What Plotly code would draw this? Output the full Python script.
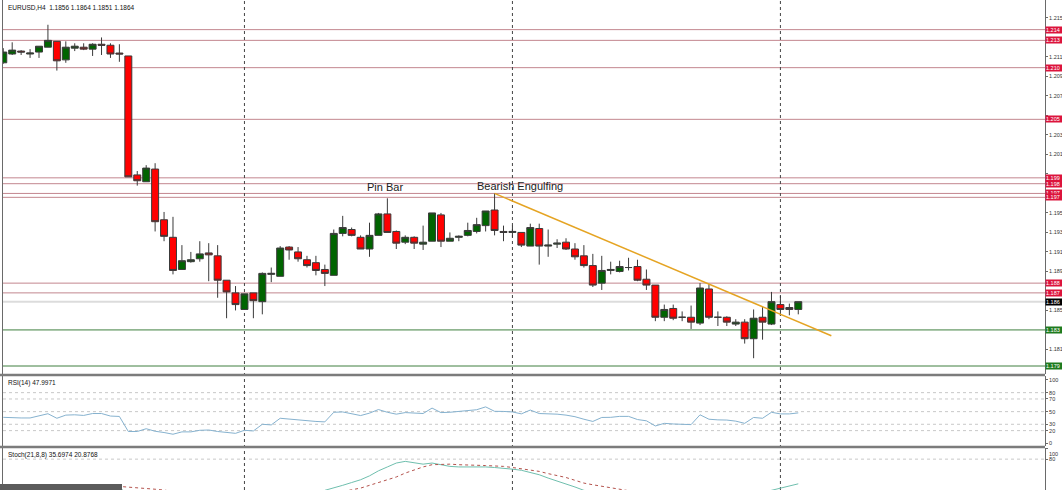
import plotly.graph_objects as go

W, H = 1062, 490

# ---------------- data ----------------
opens = [1.2109, 1.2118, 1.2121, 1.2118, 1.2120, 1.2125, 1.2131, 1.2112, 1.2124, 1.2125,
         1.2123, 1.2128, 1.2127, 1.2119, 1.2116, 1.1994, 1.1987, 1.2000, 1.1948, 1.1930,
         1.1897, 1.1905, 1.1908, 1.1914, 1.1911, 1.1886, 1.1873, 1.1856, 1.1873, 1.1864,
         1.1892, 1.1890, 1.1920, 1.1915, 1.1907, 1.1904, 1.1897, 1.1891, 1.1934, 1.1938,
         1.1930, 1.1918, 1.1932, 1.1954, 1.1936, 1.1925, 1.1930, 1.1923, 1.1926, 1.1953,
         1.1926, 1.1930, 1.1932, 1.1936, 1.1942, 1.1958, 1.1936, 1.1935, 1.1935, 1.1921,
         1.1939, 1.1921, 1.1923, 1.1925, 1.1918, 1.1911, 1.1901, 1.1883, 1.1896, 1.1895,
         1.1899, 1.1900, 1.1887, 1.1881, 1.1848, 1.1857, 1.1848, 1.1848, 1.1842, 1.1877,
         1.1848, 1.1848, 1.1841, 1.1843, 1.1826, 1.1848, 1.1841, 1.1861, 1.1858, 1.1856]
highs = [1.2124, 1.2130, 1.2122, 1.2123, 1.2126, 1.2148, 1.2131, 1.2131, 1.2129, 1.2129,
         1.2129, 1.2135, 1.2129, 1.2128, 1.2116, 1.1998, 1.2004, 1.2006, 1.1956, 1.1951,
         1.1922, 1.1915, 1.1926, 1.1924, 1.1922, 1.1886, 1.1880, 1.1872, 1.1873, 1.1894,
         1.1899, 1.1921, 1.1921, 1.1920, 1.1911, 1.1911, 1.1902, 1.1938, 1.1952, 1.1940,
         1.1932, 1.1945, 1.1955, 1.1970, 1.1937, 1.1932, 1.1931, 1.1942, 1.1955, 1.1955,
         1.1935, 1.1932, 1.1945, 1.1950, 1.1957, 1.1975, 1.1942, 1.1942, 1.1935, 1.1944,
         1.1944, 1.1938, 1.1928, 1.1929, 1.1924, 1.1922, 1.1913, 1.1911, 1.1905, 1.1906,
         1.1909, 1.1907, 1.1897, 1.1881, 1.1861, 1.1861, 1.1854, 1.1860, 1.1883, 1.1882,
         1.1854, 1.1849, 1.1846, 1.1846, 1.1856, 1.1859, 1.1874, 1.1870, 1.1862, 1.1864]
lows = [1.2108, 1.2117, 1.2117, 1.2114, 1.2114, 1.2125, 1.2101, 1.2109, 1.2121, 1.2122,
        1.2116, 1.2117, 1.2114, 1.2110, 1.1992, 1.1983, 1.1987, 1.1936, 1.1926, 1.1892,
        1.1897, 1.1904, 1.1905, 1.1885, 1.1868, 1.1847, 1.1855, 1.1856, 1.1847, 1.1851,
        1.1884, 1.1890, 1.1907, 1.1905, 1.1899, 1.1891, 1.1880, 1.1891, 1.1931, 1.1931,
        1.1918, 1.1910, 1.1932, 1.1935, 1.1918, 1.1923, 1.1918, 1.1917, 1.1926, 1.1920,
        1.1926, 1.1926, 1.1931, 1.1934, 1.1936, 1.1932, 1.1926, 1.1930, 1.1920, 1.1921,
        1.1902, 1.1910, 1.1919, 1.1917, 1.1907, 1.1899, 1.1879, 1.1876, 1.1892, 1.1894,
        1.1896, 1.1885, 1.1876, 1.1844, 1.1844, 1.1845, 1.1844, 1.1836, 1.1840, 1.1846,
        1.1839, 1.1839, 1.1839, 1.1821, 1.1806, 1.1825, 1.1840, 1.1850, 1.1850, 1.1851]
closes = [1.2120, 1.2122, 1.2120, 1.2119, 1.2126, 1.2132, 1.2111, 1.2125, 1.2126, 1.2123,
          1.2128, 1.2127, 1.2118, 1.2118, 1.1992, 1.1988, 1.2001, 1.1946, 1.1931, 1.1896,
          1.1906, 1.1907, 1.1913, 1.1912, 1.1886, 1.1874, 1.1861, 1.1872, 1.1865, 1.1893,
          1.1893, 1.1919, 1.1917, 1.1908, 1.1901, 1.1896, 1.1893, 1.1934, 1.1940, 1.1932,
          1.1918, 1.1932, 1.1954, 1.1935, 1.1924, 1.1930, 1.1924, 1.1925, 1.1955, 1.1926,
          1.1929, 1.1931, 1.1937, 1.1943, 1.1957, 1.1937, 1.1935, 1.1936, 1.1922, 1.1940,
          1.1921, 1.1922, 1.1924, 1.1918, 1.1910, 1.1901, 1.1881, 1.1896, 1.1897, 1.1900,
          1.1899, 1.1886, 1.1881, 1.1848, 1.1856, 1.1847, 1.1848, 1.1843, 1.1878, 1.1848,
          1.1848, 1.1843, 1.1843, 1.1826, 1.1847, 1.1843, 1.1864, 1.1856, 1.1856, 1.1864]

rsi = [41, 40, 40, 40, 43, 46.7, 39.5, 44.5, 45, 44,
       47, 47, 43, 42.4, 18.6, 18.6, 23, 19, 17, 14.3,
       18, 18, 20.5, 21, 18.6, 17, 15.7, 20.5, 19.5, 30,
       29, 39.5, 38, 37, 35.5, 34.5, 33.8, 49, 49.5, 47,
       43.8, 47.6, 53.3, 49, 46, 48.5, 47.8, 47, 55.6, 48.5,
       49, 50, 51.5, 53, 57.5, 50.5, 50.3, 49.5, 46.5, 52.5,
       47, 47, 46, 44.5, 42, 38, 34.5, 40.8, 41, 42.5,
       42.5, 37.5, 35.5, 27.4, 31.5, 30.5, 30, 29.5, 45, 38,
       37, 36.7, 35, 31.5, 40.8, 39.5, 49, 46.4, 46.4, 48.0]

stoch_k = [20, 22, 24, 25, 27, 30, 28, 29, 30, 31,
           33, 34, 33, 33, 8, 6, 9, 4, 3, 2,
           6, 7, 10, 12, 9, 6, 4, 6, 7, 12,
           14, 18, 20, 19, 17, 16, 24, 28, 33, 38,
           43, 50, 59, 66, 73, 76, 73, 71, 73, 70,
           67, 66, 66, 67, 66, 65, 64, 62, 60, 56,
           52, 46, 41, 36, 30, 24, 20, 17, 15, 14,
           15, 13, 10, 6, 5, 6, 5, 4, 10, 12,
           13, 12, 11, 6, 10, 12, 24, 28, 33, 35.7]
stoch_d = [28, 29, 30, 30, 31, 31, 32, 32, 32, 32,
           32, 33, 33, 31, 30, 29, 27.5, 26, 24.5, 22,
           15, 12, 10, 8, 8, 8, 8, 7, 6, 6,
           7, 9, 11, 13, 15, 16, 17, 18, 22, 25,
           28, 33, 38, 44, 48, 55, 61, 66, 70, 71,
           71, 70, 69, 69, 68.5, 68, 67, 65, 63, 61,
           58, 54, 51, 47, 42, 37, 34, 31, 28, 25,
           22, 20, 18, 16, 14, 12, 10, 9, 8, 8,
           8, 9, 9, 10, 10, 11, 13, 15, 18, 20.9]

res_levels = [1.2143, 1.2132, 1.2104, 1.2051, 1.1991, 1.1985, 1.1975, 1.1971, 1.1883, 1.1873]
sup_levels = [1.1835, 1.1798]
last_price = 1.1864
week_separators = [27, 57, 87]
price_ticks = [1.2155, 1.2135, 1.2115, 1.2095, 1.2075, 1.2055, 1.2035, 1.2015, 1.1995, 1.1975,
               1.1955, 1.1935, 1.1915, 1.1895, 1.1875, 1.1855, 1.1835, 1.1815, 1.1795]
rsi_ticks = [100, 80, 70, 50, 30, 20, 0]
rsi_levels = [80, 70, 50, 30, 20]
stoch_ticks = [100, 80, 20, 0]
stoch_levels = [80, 20]
trend_from = (55, 1.1975)
trend_to = (92.7, 1.1829)
header = "EURUSD,H4  1.1856 1.1864 1.1851 1.1864"
rsi_title = "RSI(14) 47.9971"
stoch_title = "Stoch(21,8,8) 35.6974 20.8768"

idx = list(range(len(opens)))
all_labels = res_levels + sup_levels + [last_price]


def short(v):
    # the price scale is cut by the window edge: only "1.xxx" stays visible
    return ("%.4f" % v)[:5]


# ---------------- layout helpers (pixel -> paper) ----------------
def py(px):
    return 1 - px / H


def pxx(px):
    return px / W


X0, X1 = pxx(3), pxx(1045)
FONT = "Liberation Sans, Arial, sans-serif"
SCALE_FONT = 5.5

fig = go.Figure()

fig.add_trace(go.Candlestick(
    x=idx, open=opens, high=highs, low=lows, close=closes,
    increasing=dict(fillcolor="#006400", line=dict(color="#3a3a3a", width=1)),
    decreasing=dict(fillcolor="#ff0000", line=dict(color="#3a3a3a", width=1)),
    whiskerwidth=0, xaxis="x", yaxis="y", hoverinfo="skip", showlegend=False))

fig.add_trace(go.Scatter(x=idx, y=rsi, mode="lines", line=dict(color="#86b2cf", width=1),
                         xaxis="x2", yaxis="y2", showlegend=False, hoverinfo="skip"))
fig.add_trace(go.Scatter(x=idx, y=stoch_k, mode="lines", line=dict(color="#6fbfae", width=1),
                         xaxis="x3", yaxis="y3", showlegend=False, hoverinfo="skip"))
fig.add_trace(go.Scatter(x=idx, y=stoch_d, mode="lines", line=dict(color="#b4534d", width=1, dash="dot"),
                         xaxis="x3", yaxis="y3", showlegend=False, hoverinfo="skip"))

xr = [-0.03, 116.62]
xcommon = dict(range=xr, showgrid=False, zeroline=False, showticklabels=False, ticks="",
               showline=False, domain=[X0, X1], fixedrange=True, automargin=False)
ycommon = dict(side="right", showgrid=False, zeroline=False, showline=True, mirror=True,
               linecolor="#6a6a6a", linewidth=1, ticks="outside", ticklen=2, tickcolor="#6a6a6a",
               tickfont=dict(family=FONT, size=SCALE_FONT, color="#333333"), fixedrange=True,
               automargin=False, ticklabelstandoff=0)

shapes = []
annotations = []


def price_label(v, bg):
    return dict(xref="paper", yref="y", x=X1, y=v, xanchor="left", yanchor="middle",
                text=short(v), showarrow=False, bgcolor=bg, width=16, align="left",
                font=dict(family=FONT, size=SCALE_FONT, color="white"), borderpad=0)


# horizontal levels in main pane
for lv in res_levels:
    shapes.append(dict(type="line", xref="x domain", yref="y", x0=0, x1=1, y0=lv, y1=lv,
                       line=dict(color="#c3878f", width=1), layer="below"))
    annotations.append(price_label(lv, "#dc143c"))
for lv in sup_levels:
    shapes.append(dict(type="line", xref="x domain", yref="y", x0=0, x1=1, y0=lv, y1=lv,
                       line=dict(color="#3f7f3f", width=1), layer="below"))
    annotations.append(price_label(lv, "#1e7b1e"))
shapes.append(dict(type="line", xref="x domain", yref="y", x0=0, x1=1, y0=last_price, y1=last_price,
                   line=dict(color="#dcdcdc", width=2), layer="below"))
annotations.append(price_label(last_price, "#000000"))

# trend line
shapes.append(dict(type="line", xref="x", yref="y", x0=trend_from[0], y0=trend_from[1],
                   x1=trend_to[0], y1=trend_to[1], line=dict(color="#e5a423", width=1.5), layer="above"))

# rsi / stoch level lines
for lv in rsi_levels:
    shapes.append(dict(type="line", xref="x2 domain", yref="y2", x0=0, x1=1, y0=lv, y1=lv,
                       line=dict(color="#c8c8c8", width=1, dash="dot"), layer="below"))
for lv in stoch_levels:
    shapes.append(dict(type="line", xref="x3 domain", yref="y3", x0=0, x1=1, y0=lv, y1=lv,
                       line=dict(color="#c8c8c8", width=1, dash="dot"), layer="below"))

# week separators
for s in week_separators:
    shapes.append(dict(type="line", xref="x", yref="paper", x0=s, x1=s, y0=0, y1=1,
                       line=dict(color="#444444", width=1, dash="dot"), layer="below"))

# pane separators
for ypx in (375, 447):
    shapes.append(dict(type="line", xref="paper", yref="paper", x0=0, x1=X1, y0=py(ypx), y1=py(ypx),
                       line=dict(color="#7c7c7c", width=2.5), layer="above"))

# logo strip bottom-left
shapes.append(dict(type="rect", xref="paper", yref="paper", x0=0, x1=pxx(122), y0=0, y1=py(484),
                   fillcolor="#5c5c5c", line=dict(width=0), layer="above"))

# texts
annotations += [
    dict(xref="paper", yref="paper", x=pxx(6), y=py(2), xanchor="left", yanchor="top", text=header,
         showarrow=False, font=dict(family=FONT, size=6.5, color="#111111")),
    dict(xref="paper", yref="paper", x=pxx(6), y=py(377), xanchor="left", yanchor="top", text=rsi_title,
         showarrow=False, font=dict(family=FONT, size=6.5, color="#111111")),
    dict(xref="paper", yref="paper", x=pxx(6), y=py(449), xanchor="left", yanchor="top", text=stoch_title,
         showarrow=False, font=dict(family=FONT, size=6.5, color="#111111")),
    dict(xref="x", yref="y", x=42.7, y=1.19816, text="Pin Bar", showarrow=False,
         font=dict(family=FONT, size=11, color="#222222")),
    dict(xref="x", yref="y", x=57.86, y=1.19827, text="Bearish Engulfing", showarrow=False,
         font=dict(family=FONT, size=11, color="#222222")),
    # top label of the stochastic scale sits just under the pane's upper edge
    dict(xref="paper", yref="y3", x=X1 + pxx(2), y=stoch_ticks[0], xanchor="left", yanchor="top",
         yshift=-1, text=str(stoch_ticks[0]), showarrow=False,
         font=dict(family=FONT, size=SCALE_FONT, color="#333333")),
]

# tick labels hidden where a price label box covers them (as in the reference)
price_ticktext = ["" if min(abs(t - l) for l in all_labels) < 0.00055 else short(t)
                  for t in price_ticks]
stoch_ticktext = [""] + [str(t) for t in stoch_ticks[1:]]

fig.update_layout(
    width=W, height=H, margin=dict(l=0, r=0, t=0, b=0, autoexpand=False),
    paper_bgcolor="white", plot_bgcolor="white", showlegend=False,
    boxgap=0.22, boxgroupgap=0,
    xaxis=dict(**xcommon, anchor="y", rangeslider=dict(visible=False)),
    xaxis2=dict(**xcommon, anchor="y2", matches="x"),
    xaxis3=dict(**xcommon, anchor="y3", matches="x"),
    yaxis=dict(**ycommon, anchor="x", domain=[py(374), 1], range=[1.17898, 1.21734],
               tickvals=price_ticks, ticktext=price_ticktext),
    yaxis2=dict(**ycommon, anchor="x2", domain=[py(446), py(376)], range=[-4.3, 106.3],
                tickvals=rsi_ticks, ticktext=[str(t) for t in rsi_ticks]),
    yaxis3=dict(**ycommon, anchor="x3", domain=[0, py(448)], range=[24.6, 100],
                tickvals=stoch_ticks, ticktext=stoch_ticktext),
    shapes=shapes, annotations=annotations,
)

fig.write_html("out.html", config={"displayModeBar": False, "staticPlot": True},
               post_script="document.body.style.margin='0';document.body.style.overflow='hidden';")
